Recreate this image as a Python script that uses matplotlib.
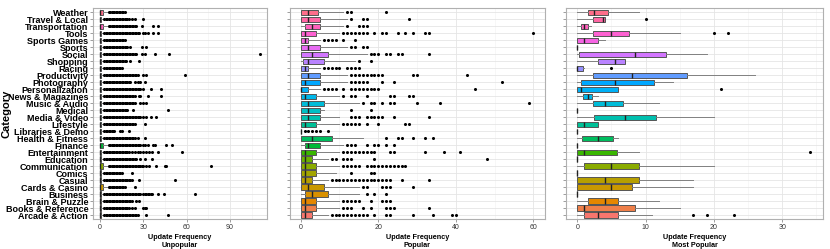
import numpy as np
import matplotlib
matplotlib.use("Agg")
import matplotlib.pyplot as plt

plt.rcParams["font.family"] = ["Liberation Sans", "DejaVu Sans"]

categories = ["Arcade & Action", "Books & Reference", "Brain & Puzzle", "Business",
              "Cards & Casino", "Casual", "Comics", "Communication", "Education",
              "Entertainment", "Finance", "Health & Fitness", "Libraries & Demo",
              "Lifestyle", "Media & Video", "Medical", "Music & Audio",
              "News & Magazines", "Personalization", "Photography", "Productivity",
              "Racing", "Shopping", "Social", "Sports", "Sports Games", "Tools",
              "Transportation", "Travel & Local", "Weather"]

# ---- Unpopular: tiny boxes, long runs of outliers (every integer up to dense_end)
unpop_q1 = [0] * 30
unpop_med = [0] * 30
unpop_q3 = [1, 1, 1, 1, 2, 1, 1, 2, 1, 1, 2, 1, 1, 1, 1, 1, 1, 1, 1, 1,
            1, 1, 1, 1, 1, 1, 1, 2, 1, 2]
unpop_lo = [0] * 30
unpop_hi = [2, 2, 2, 2, 5, 2, 2, 5, 2, 2, 5, 2, 2, 2, 2, 2, 2, 2, 2, 2,
            2, 2, 2, 2, 2, 2, 2, 5, 2, 5]
unpop_dense_end = [26, 20, 22, 28, 17, 22, 15, 30, 25, 20, 28, 24, 10, 24, 28, 19,
                   24, 24, 28, 21, 26, 15, 18, 25, 19, 17, 27, 25, 20, 17]
unpop_extra = [[32, 47], [22, 24, 30, 31, 32], [25, 27],
               [30, 31, 32, 33, 34, 35, 36, 40, 44, 66], [24], [27, 52], [22],
               [32, 34, 39, 45, 46, 77], [28, 31, 36],
               [22, 24, 26, 28, 30, 32, 34, 36, 40, 57],
               [30, 31, 33, 37, 38, 46, 50], [26, 31], [14, 15, 20], [31],
               [30, 32, 35, 39], [23, 47], [28, 30, 32], [27, 28, 33, 42],
               [30, 35, 42], [24, 26, 28, 31], [30, 32, 59], [], [21, 27],
               [29, 31, 38, 48, 111], [21, 29, 32], [], [30, 31, 33, 37, 40],
               [29, 37, 40], [22, 24, 30], []]

# ---- Popular
pop_q1 = [0, 0, 0, 1, 0, 0, 0, 0, 0, 0, 1, 0, 0, 0, 0, 0, 0, 0, 0, 0,
          0, 0, 0.5, 0, 0, 0, 0, 1, 0, 0]
pop_med = [1, 1, 1, 3, 2, 1, 1, 1, 1, 1, 2, 3, 0, 1, 2, 2, 2, 1, 0, 1,
           2, 1, 2, 3, 2, 1, 1, 3, 2, 2]
pop_q3 = [3, 4, 4, 7, 6, 3, 4, 4, 3, 4, 5, 8, 0, 4, 5, 5, 6, 4, 2, 5,
          5, 2, 6, 7, 5, 2, 4, 5, 5, 4.5]
pop_lo = [0] * 30
pop_hi = [7, 10, 10, 15, 15, 7, 9, 10, 7, 10, 11, 16, 0, 10, 10, 6, 15, 10, 5, 12,
          12, 5, 14, 17, 12, 5, 10, 11, 12, 11]
pop_out = [[8, 9, 10, 11, 12, 13, 14, 15, 16, 17, 19, 22, 23, 29, 34, 39, 40],
           [11, 12, 13, 16, 18, 22, 23, 24, 33],
           [11, 12, 13, 14, 15, 18, 21, 22, 23],
           [17, 19, 22],
           [16, 17, 21, 22, 23, 29],
           [8, 9, 10, 11, 12, 13, 14, 15, 16, 17, 18, 19, 20, 21, 22, 23, 26, 33],
           [13, 18, 19],
           [11, 12, 13, 14, 15, 17, 18, 19, 20, 21, 22, 23, 24, 25, 26, 27],
           [8, 9, 11, 12, 13, 19, 48],
           [11, 12, 13, 14, 15, 16, 17, 18, 19, 23, 24, 32, 37, 41],
           [12, 13, 14, 17, 19, 20, 22, 24],
           [22, 25, 26, 29, 32, 34],
           [1, 2, 3, 4, 5, 7],
           [11, 12, 13, 14, 15, 17, 20, 27, 28],
           [13, 14, 15, 17, 18, 19, 20, 21, 24, 33],
           [13, 18],
           [16, 18, 19, 21, 23, 24, 30, 36, 59],
           [11, 13, 14, 17, 23, 24, 28, 29],
           [6, 7, 8, 9, 11, 13, 14, 15, 16, 17, 18, 19, 20, 45],
           [13, 14, 15, 16, 17, 21, 24, 52],
           [13, 14, 15, 16, 17, 18, 19, 20, 21, 29, 30, 43],
           [6, 7, 8, 9, 10, 12, 13, 14, 15],
           [15, 18],
           [18, 19, 20, 22, 23, 25, 26, 33],
           [13, 14, 16, 17],
           [6, 7, 8, 9, 11, 14],
           [11, 12, 13, 14, 15, 16, 17, 19, 21, 22, 25, 27, 29, 32, 33, 60],
           [12, 15, 16, 17],
           [13, 16, 17, 28],
           [12, 13, 22]]

# ---- Most popular
top_q1 = [1, 0, 1.5, 0, 0, 0, 0, 1, 0, 0, 0, 0.7, 0, 0, 2.5, 0, 2.3, 0.8, 0, 0.5,
          2.3, 0, 3, 0.3, 0, 0, 2.3, 0.5, 2.3, 1.5]
top_med = [3, 1, 4, 0, 5, 4, 0, 5, 0, 1, 0, 3, 0, 1, 7, 0, 4, 1.5, 0.5, 5.5,
           8, 0, 5.5, 8.5, 0, 1, 5, 1, 3.7, 2.5]
top_q3 = [6, 8.5, 6, 0, 8, 9, 0, 9, 0, 5.8, 0, 5.3, 0, 3, 11.5, 0, 6.7, 2.2, 6, 11.3,
          16, 0.8, 7, 13, 0, 3, 7.5, 1.5, 4, 4.5]
top_lo = [0] * 30
top_hi = [11, 15, 12, 0, 17, 17, 0, 20, 0, 9, 0, 6, 0, 3, 20, 0, 12, 3, 6, 14,
          26, 1, 7, 19, 0, 4, 15, 2, 4, 9]
top_out = [[17, 19, 23], [], [], [], [], [], [], [], [], [34], [], [], [], [], [],
           [], [], [], [21], [], [], [5], [], [], [], [], [20, 22], [], [10], []]


def hue_colors(n, l=65, c=100):
    # ggplot2 default hue palette (polar Luv -> sRGB)
    xn, yn, zn = 95.047, 100.0, 108.883
    un = 4 * xn / (xn + 15 * yn + 3 * zn)
    vn = 9 * yn / (xn + 15 * yn + 3 * zn)
    out = []
    for h in np.linspace(15, 375, n + 1)[:n]:
        u = c * np.cos(np.radians(h))
        v = c * np.sin(np.radians(h))
        y = yn * ((l + 16) / 116) ** 3
        up = u / (13 * l) + un
        vp = v / (13 * l) + vn
        x = 9 * y * up / (4 * vp)
        z = -x / 3 - 5 * y + 3 * y / vp
        x, y, z = x / 100, y / 100, z / 100
        r = 3.2404542 * x - 1.5371385 * y - 0.4985314 * z
        g = -0.9692660 * x + 1.8760108 * y + 0.0415560 * z
        b = 0.0556434 * x - 0.2040259 * y + 1.0572252 * z
        rgb = []
        for ch in (r, g, b):
            ch = 12.92 * ch if ch <= 0.0031308 else 1.055 * ch ** (1 / 2.4) - 0.055
            rgb.append(min(max(ch, 0), 1))
        out.append(tuple(rgb))
    return out


colors = hue_colors(len(categories))


def make_stats(q1, med, q3, lo, hi, fliers):
    return [dict(q1=q1[i], med=med[i], q3=q3[i], whislo=lo[i], whishi=hi[i],
                 fliers=fliers[i]) for i in range(len(q1))]


unpop_out = [list(range(unpop_hi[i] + 1, unpop_dense_end[i] + 1)) + unpop_extra[i]
             for i in range(30)]

panels = [
    (make_stats(unpop_q1, unpop_med, unpop_q3, unpop_lo, unpop_hi, unpop_out),
     "Update Frequency\nUnpopular", [0, 30, 60, 90], (-4.85, 115.6), 93, 267),
    (make_stats(pop_q1, pop_med, pop_q3, pop_lo, pop_hi, pop_out),
     "Update Frequency\nPopular", [0, 20, 40, 60], (-2.76, 63.0), 290, 545),
    (make_stats(top_q1, top_med, top_q3, top_lo, top_hi, top_out),
     "Update Frequency\nMost Popular", [0, 10, 20, 30], (-1.65, 35.97), 566, 823),
]

W, H = 830, 249
fig = plt.figure(figsize=(W / 100, H / 100), dpi=100)
top_px, bot_px = 8.3, 219.3
pos = np.arange(len(categories))

for k, (stats, xlabel, ticks, xlim, left, right) in enumerate(panels):
    ax = fig.add_axes([left / W, 1 - bot_px / H, (right - left) / W, (bot_px - top_px) / H])
    ax.set_facecolor("white")
    step = ticks[1] - ticks[0]
    ax.set_xticks(ticks)
    ax.set_xticks(np.arange(ticks[0] - step / 2, xlim[1], step), minor=True)
    ax.grid(True, which="major", color="#e5e5e5", lw=0.6)
    ax.grid(True, which="minor", axis="x", color="#f4f4f4", lw=0.5)
    ax.set_axisbelow(True)

    bp = ax.bxp(stats, positions=pos, widths=0.78, orientation="horizontal",
                patch_artist=True, showcaps=False,
                boxprops=dict(edgecolor="#555555", linewidth=0.7),
                whiskerprops=dict(color="#808080", linewidth=0.7),
                medianprops=dict(color="#222222", linewidth=1.0),
                flierprops=dict(marker="o", markersize=2.2, markerfacecolor="black",
                                markeredgecolor="black", markeredgewidth=0,
                                linestyle="none"))
    for patch, col in zip(bp["boxes"], colors):
        patch.set_facecolor(col)

    ax.set_xlim(*xlim)
    ax.set_ylim(-0.6, len(categories) - 0.4)
    ax.set_yticks(pos)
    if k == 0:
        ax.set_yticklabels(categories, fontsize=6.5, fontweight="bold", color="black")
    else:
        ax.set_yticklabels([])
    ax.set_xticklabels([str(t) for t in ticks], fontsize=5, color="#333333")
    ax.set_xlabel(xlabel, fontsize=5.2, fontweight="bold", labelpad=2, linespacing=1.2)
    ax.tick_params(axis="both", which="major", length=2, width=0.5, color="#777777", pad=1.5)
    ax.tick_params(axis="x", which="minor", length=0)
    for sp in ax.spines.values():
        sp.set_color("#b0b0b0")
        sp.set_linewidth(0.8)

fig.text(7 / W, 1 - 113.8 / H, "Category", rotation=90, fontsize=8, fontweight="bold",
         ha="center", va="center")

fig.savefig("out.png", dpi=100)
